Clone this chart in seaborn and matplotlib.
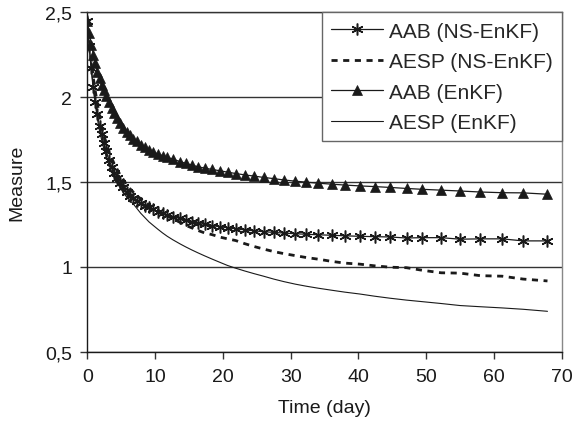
import matplotlib
matplotlib.use("Agg")
import matplotlib.pyplot as plt
import seaborn as sns
import pandas as pd
from matplotlib.ticker import FuncFormatter

# ---- data ----
time_day = [0, 0.3, 0.6, 0.9, 1.2, 1.5, 1.8, 2.1, 2.4, 2.8, 3.2, 3.6, 4.0, 4.4, 4.8,
            5.3, 5.8, 6.3, 6.8, 7.3, 7.9, 8.5, 9.1, 9.7, 10.4, 11.1, 11.8, 12.6, 13.7,
            14.5, 15.4, 16.3, 17.3, 18.4, 19.6, 20.7, 21.9, 23.2, 24.6, 26.0, 27.5,
            29.0, 30.7, 32.3, 34.1, 36.1, 38.0, 40.2, 42.4, 44.7, 47.1, 49.4, 52.2,
            55.0, 58.0, 61.2, 64.3, 67.9]

aab_ns_enkf = [2.45, 2.30, 2.17, 2.06, 1.97, 1.90, 1.83, 1.78, 1.73, 1.68, 1.63, 1.59,
               1.555, 1.525, 1.495, 1.47, 1.44, 1.42, 1.405, 1.39, 1.375, 1.36, 1.35,
               1.34, 1.325, 1.315, 1.305, 1.295, 1.285, 1.275, 1.265, 1.258, 1.25,
               1.243, 1.236, 1.23, 1.224, 1.218, 1.212, 1.207, 1.203, 1.199, 1.195,
               1.192, 1.189, 1.186, 1.183, 1.18, 1.178, 1.176, 1.17, 1.172, 1.172,
               1.163, 1.165, 1.165, 1.153, 1.153]

aesp_ns_enkf = [2.45, 2.33, 2.21, 2.11, 2.03, 1.96, 1.89, 1.83, 1.78, 1.73, 1.68, 1.64,
                1.605, 1.575, 1.545, 1.515, 1.485, 1.46, 1.44, 1.42, 1.40, 1.38, 1.365,
                1.35, 1.335, 1.315, 1.30, 1.283, 1.262, 1.245, 1.23, 1.215, 1.20, 1.19,
                1.175, 1.165, 1.155, 1.137, 1.12, 1.105, 1.09, 1.078, 1.066, 1.055,
                1.045, 1.032, 1.022, 1.016, 1.006, 0.998, 0.995, 0.98, 0.965, 0.963,
                0.948, 0.945, 0.928, 0.917]

aab_enkf = [2.45, 2.38, 2.31, 2.25, 2.20, 2.15, 2.11, 2.07, 2.04, 2.005, 1.97, 1.935,
            1.905, 1.875, 1.85, 1.82, 1.795, 1.775, 1.755, 1.74, 1.72, 1.705, 1.69,
            1.678, 1.665, 1.655, 1.645, 1.635, 1.62, 1.61, 1.60, 1.59, 1.582, 1.574,
            1.566, 1.558, 1.55, 1.542, 1.535, 1.527, 1.52, 1.512, 1.505, 1.499, 1.493,
            1.487, 1.482, 1.477, 1.473, 1.468, 1.462, 1.457, 1.452, 1.447, 1.441,
            1.437, 1.436, 1.428]

aesp_enkf = [2.45, 2.28, 2.15, 2.04, 1.95, 1.87, 1.80, 1.75, 1.70, 1.65, 1.60, 1.56,
             1.525, 1.495, 1.468, 1.438, 1.412, 1.39, 1.37, 1.345, 1.315, 1.29, 1.265,
             1.245, 1.222, 1.20, 1.18, 1.16, 1.135, 1.118, 1.10, 1.083, 1.065, 1.046,
             1.026, 1.008, 0.992, 0.976, 0.96, 0.945, 0.928, 0.913, 0.898, 0.886, 0.874,
             0.862, 0.851, 0.84, 0.827, 0.815, 0.804, 0.795, 0.784, 0.772, 0.765, 0.758,
             0.75, 0.738]

series_labels = ["AAB (NS-EnKF)", "AESP (NS-EnKF)", "AAB (EnKF)", "AESP (EnKF)"]
x_ticks = [0, 10, 20, 30, 40, 50, 60, 70]
y_ticks = [0.5, 1.0, 1.5, 2.0, 2.5]

# ---- style ----
sns.set_theme(style="white")
plt.rcParams["font.family"] = ["Liberation Sans", "DejaVu Sans"]
plt.rcParams["font.size"] = 14

fig = plt.figure(figsize=(5.74, 4.35), dpi=100)
ax = fig.add_axes([0.1521, 0.1892, 0.8265, 0.7802])

df = pd.DataFrame({"t": time_day, "a1": aab_ns_enkf, "a2": aesp_ns_enkf,
                   "a3": aab_enkf, "a4": aesp_enkf})

ink = "#1a1a1a"
sns.lineplot(data=df, x="t", y="a1", ax=ax, color=ink, lw=0.9,
             marker=(6, 2, 0), markersize=8.5, markeredgewidth=1.1,
             markeredgecolor=ink, label=series_labels[0], estimator=None, sort=False)
sns.lineplot(data=df, x="t", y="a2", ax=ax, color=ink, lw=2.0,
             label=series_labels[1], estimator=None, sort=False)
ax.lines[-1].set_dashes((2.2, 2.0))
sns.lineplot(data=df, x="t", y="a3", ax=ax, color=ink, lw=0.9,
             marker="^", markersize=7.5, markeredgewidth=0.5,
             markeredgecolor=ink, markerfacecolor=ink,
             label=series_labels[2], estimator=None, sort=False)
sns.lineplot(data=df, x="t", y="a4", ax=ax, color=ink, lw=0.8,
             label=series_labels[3], estimator=None, sort=False)

ax.set_xlim(0, 70)
ax.set_ylim(0.5, 2.5)
ax.set_xticks(x_ticks)
ax.set_yticks(y_ticks)
ax.yaxis.set_major_formatter(FuncFormatter(lambda v, p: f"{v:g}".replace(".", ",")))
ax.tick_params(axis="both", which="major", direction="out", length=5, width=1,
               color="#333333", labelsize=14, labelcolor=ink, pad=6,
               bottom=True, left=True)
ax.tick_params(axis="x", pad=7)

ax.yaxis.grid(True, color="#333333", lw=1.0)
ax.xaxis.grid(False)
ax.set_axisbelow(True)

for side in ["left", "bottom"]:
    ax.spines[side].set_color(ink)
    ax.spines[side].set_linewidth(1.0)
ax.spines["top"].set_color("#333333")
ax.spines["top"].set_linewidth(1.0)
ax.spines["right"].set_color("#888888")
ax.spines["right"].set_linewidth(1.0)

ax.set_xlabel("Time (day)", fontsize=14, color=ink, labelpad=10)
ax.set_ylabel("Measure", fontsize=14, color=ink, labelpad=14)

leg = ax.legend(loc="upper right", bbox_to_anchor=(1.0, 1.0), borderaxespad=0,
                frameon=True, fancybox=False, edgecolor="#666666", fontsize=15,
                handlelength=2.5, handletextpad=0.25, labelspacing=0.55,
                borderpad=0.45, framealpha=1.0)
leg.get_frame().set_linewidth(1.0)
leg.set_zorder(5)

fig.savefig("out.png", dpi=100)
